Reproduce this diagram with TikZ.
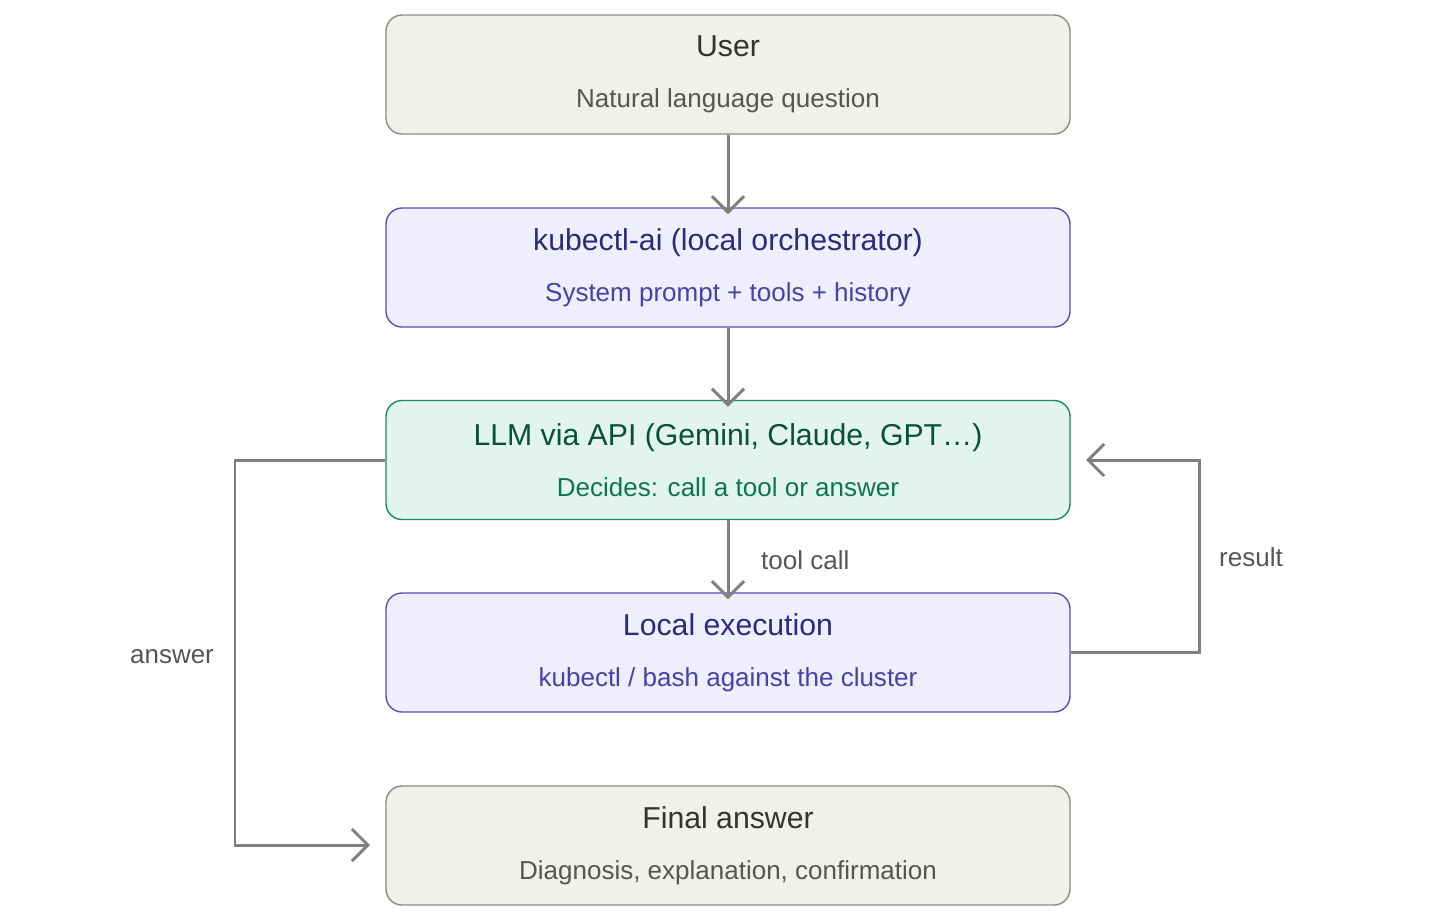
\documentclass[tikz,border=0pt]{standalone}
\usepackage{fontspec}
\setmainfont{Liberation Sans}
\usetikzlibrary{arrows.meta}
\definecolor{grayfill}{HTML}{F1F0EB}
\definecolor{grayline}{HTML}{8C8B84}
\definecolor{graytitle}{HTML}{333333}
\definecolor{graysub}{HTML}{555555}
\definecolor{purfill}{HTML}{EEEEFD}
\definecolor{purline}{HTML}{5B4FB0}
\definecolor{purtitle}{HTML}{2E2A7A}
\definecolor{pursub}{HTML}{4B3FA8}
\definecolor{grnfill}{HTML}{E1F5EE}
\definecolor{grnline}{HTML}{1A8A60}
\definecolor{grntitle}{HTML}{0B4F3A}
\definecolor{grnsub}{HTML}{10754F}
\definecolor{arrowgray}{HTML}{808080}
\tikzset{
  box/.style={draw, rounded corners=0.16cm, line width=0.4pt, minimum width=6.84cm, minimum height=1.19cm},
  graybox/.style={box, fill=grayfill, draw=grayline},
  purbox/.style={box, fill=purfill, draw=purline},
  grnbox/.style={box, fill=grnfill, draw=grnline},
  flow/.style={draw=arrowgray, line width=0.85pt, -{Straight Barb[length=1.6mm,width=3.2mm]}},
  lbl/.style={text=graysub, font=\fontsize{7.4}{9}\selectfont}
}
\newcommand{\boxtext}[4]{\textcolor{#1}{\fontsize{8.6}{10}\selectfont #2}\\[0.9mm]\textcolor{#3}{\fontsize{7.4}{9}\selectfont #4}}
\begin{document}
\begin{tikzpicture}
\useasboundingbox (0,0) rectangle (14.56,-9.17);
\node[graybox, align=center] (user) at (7.28,-0.745) {\boxtext{graytitle}{User}{graysub}{Natural language question}};
\node[purbox, align=center] (orch) at (7.28,-2.675) {\boxtext{purtitle}{kubectl-ai (local orchestrator)}{pursub}{System prompt + tools + history}};
\node[grnbox, align=center] (llm) at (7.28,-4.6) {\boxtext{grntitle}{LLM via API (Gemini, Claude, GPT…)}{grnsub}{Decides: call a tool or answer}};
\node[purbox, align=center] (exec) at (7.28,-6.525) {\boxtext{purtitle}{Local execution}{pursub}{kubectl / bash against the cluster}};
\node[graybox, align=center] (final) at (7.28,-8.455) {\boxtext{graytitle}{Final answer}{graysub}{Diagnosis, explanation, confirmation}};

\coordinate (ansturn) at (2.35,-4.6);
\coordinate (ansend) at (3.70,-8.45);
\coordinate (resturn) at (11.99,-6.525);
\coordinate (resend) at (10.86,-4.6);

\draw[flow] (user.south) -- ([yshift=-0.07cm]orch.north);
\draw[flow] (orch.south) -- ([yshift=-0.07cm]llm.north);
\draw[flow] (llm.south) -- node[lbl, right=0.2cm] {tool call} ([yshift=-0.07cm]exec.north);
\draw[flow] (llm.west) -| (ansturn |- ansend) -- (ansend);
\draw[flow] (exec.east) -- (resturn) |- (resend);

\node[lbl] (anslbl) at (1.72,-6.57) {answer};
\node[lbl] (reslbl) at (12.51,-5.57) {result};
\end{tikzpicture}
\end{document}
